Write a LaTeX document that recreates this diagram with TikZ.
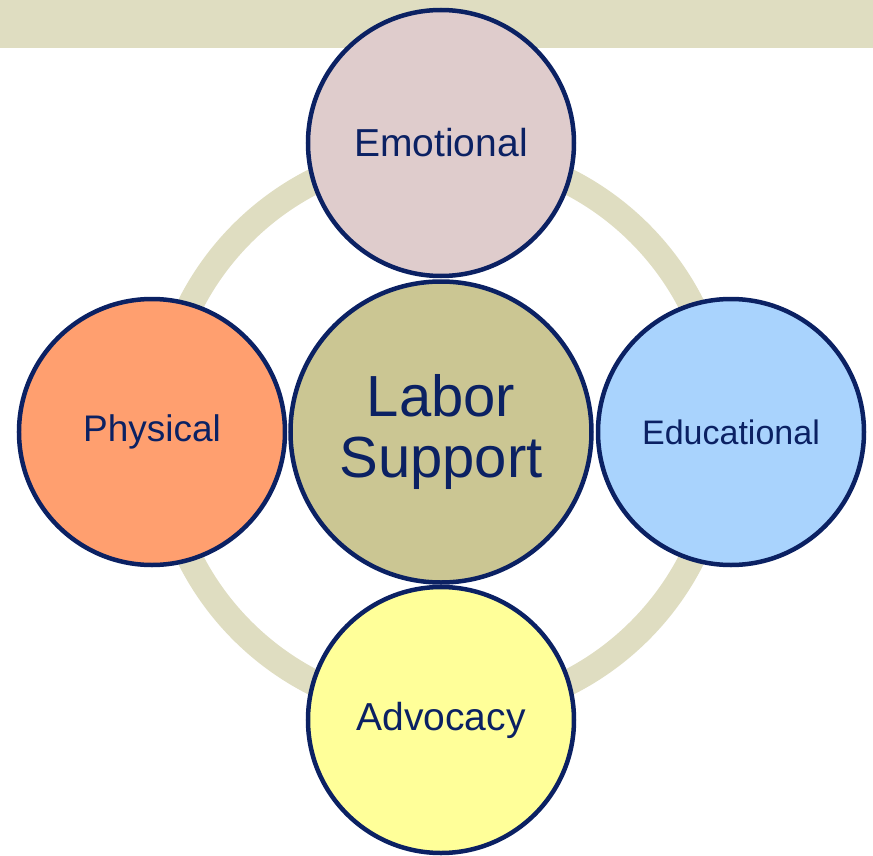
\documentclass[tikz,border=0pt]{standalone}
\usepackage{fontspec}
\setmainfont{Liberation Sans}
\definecolor{navy}{HTML}{0B2163}
\definecolor{sand}{HTML}{DFDDC1}
\definecolor{hub}{HTML}{CBC693}
\definecolor{rose}{HTML}{DFCCCC}
\definecolor{peach}{HTML}{FF9F6F}
\definecolor{sky}{HTML}{A9D3FD}
\definecolor{lemon}{HTML}{FFFF99}
\begin{document}
\begin{tikzpicture}[x=1pt,y=1pt,
		ball/.style={draw=navy,line width=4.5pt,shape=circle,inner sep=0pt,
			minimum size=266pt,text=navy,font=\fontsize{39}{45}\selectfont}]
		\useasboundingbox (-441,-423) rectangle (432,432);
		\fill[sand] (-441,384) rectangle (432,432);
		\draw[sand,line width=26pt] (0,0) circle (281);
		\node[ball,fill=hub,minimum size=301pt,align=center,
			font=\fontsize{58}{61}\selectfont] (hub) at (0,0) {Labor\\Support};
		\node[ball,fill=rose] (emo) at (90:289) {Emotional};
		\node[ball,fill=peach,font=\fontsize{37}{43}\selectfont] (phys) at (180:289) {Physical};
		\node[ball,fill=sky,font=\fontsize{34}{40}\selectfont] (edu) at (0:290) {Educational};
		\node[ball,fill=lemon] (adv) at (270:288) {Advocacy};
	\end{tikzpicture}
\end{document}
